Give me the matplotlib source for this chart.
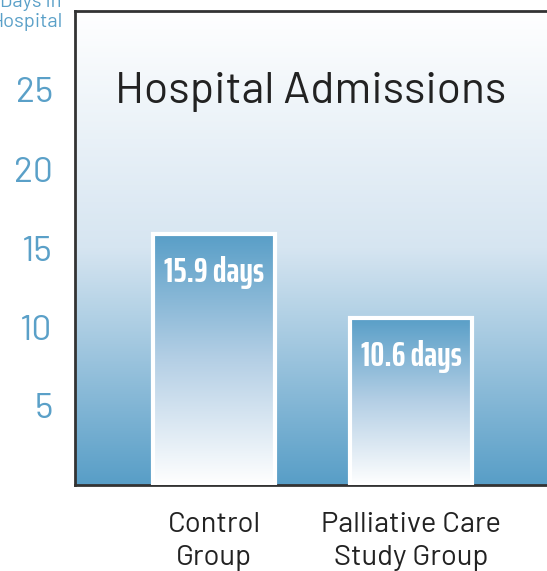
import matplotlib
matplotlib.use("Agg")
import matplotlib.pyplot as plt
import numpy as np
from matplotlib.colors import LinearSegmentedColormap

categories = ["Control\nGroup", "Palliative Care\nStudy Group"]
values = [15.9, 10.6]
bar_labels = ["15.9 days", "10.6 days"]
yticks = [5, 10, 15, 20, 25]
title = "Hospital Admissions"
ylabel = "Days in\nHospital"

BLUE = "#589ec7"
TICK_BLUE = "#5aa0c8"
FONT = ["Barlow", "Roboto", "DejaVu Sans"]
COND = ["Saira ExtraCondensed", "Roboto Condensed", "DejaVu Sans"]

fig = plt.figure(figsize=(5.47, 5.71), dpi=100)
ax = fig.add_axes([75/547, 86/571, 472/547, 474/571])
ax.set_xlim(-0.706, 1.69)
ax.set_ylim(0, 30)

bg = LinearSegmentedColormap.from_list("bg", ["#ffffff", "#d6e5f1", BLUE])
grad = np.linspace(0, 1, 256).reshape(-1, 1)
ax.imshow(grad, aspect="auto", cmap=bg, extent=(-0.706, 1.69, 0, 30), zorder=0)

barcm = LinearSegmentedColormap.from_list("bar", [BLUE, "#b4cfe5", "#ffffff"])
x = np.arange(len(values))
bars = ax.bar(x, values, width=0.62, facecolor="none", edgecolor="white",
              linewidth=3, zorder=3)
for b, v, lab in zip(bars, values, bar_labels):
    x0 = b.get_x(); w = b.get_width()
    im = ax.imshow(grad, aspect="auto", cmap=barcm,
                   extent=(x0, x0 + w, 0, v), zorder=2)
    im.set_clip_path(b)
    ax.text(x0 + w/2, v - 2.45, lab, ha="center", va="center", color="white",
            fontsize=25, fontweight="bold", family=COND, zorder=4)

ax.set_xticks(x)
ax.set_xticklabels(categories, fontsize=21, color="#222222", family=FONT,
                   linespacing=1.34)
ax.set_yticks(yticks)
ax.set_yticklabels([str(t) for t in yticks], fontsize=25.5, color=TICK_BLUE, family=FONT)
ax.tick_params(axis="both", length=0)
ax.tick_params(axis="y", pad=16)
ax.tick_params(axis="x", pad=19.5)
for s in ["left", "top", "bottom"]:
    ax.spines[s].set_color("#333333")
    ax.spines[s].set_linewidth(2)
ax.spines["right"].set_visible(False)

ax.text(0.5, 0.83, title, transform=ax.transAxes, ha="center", va="center",
        fontsize=32, color="#222222", family=FONT)
fig.text(62/547, 1 - 27/571, ylabel, ha="right", va="baseline", fontsize=14.5,
         color=TICK_BLUE, family=FONT, linespacing=1.15)

fig.savefig("out.png", dpi=100)
